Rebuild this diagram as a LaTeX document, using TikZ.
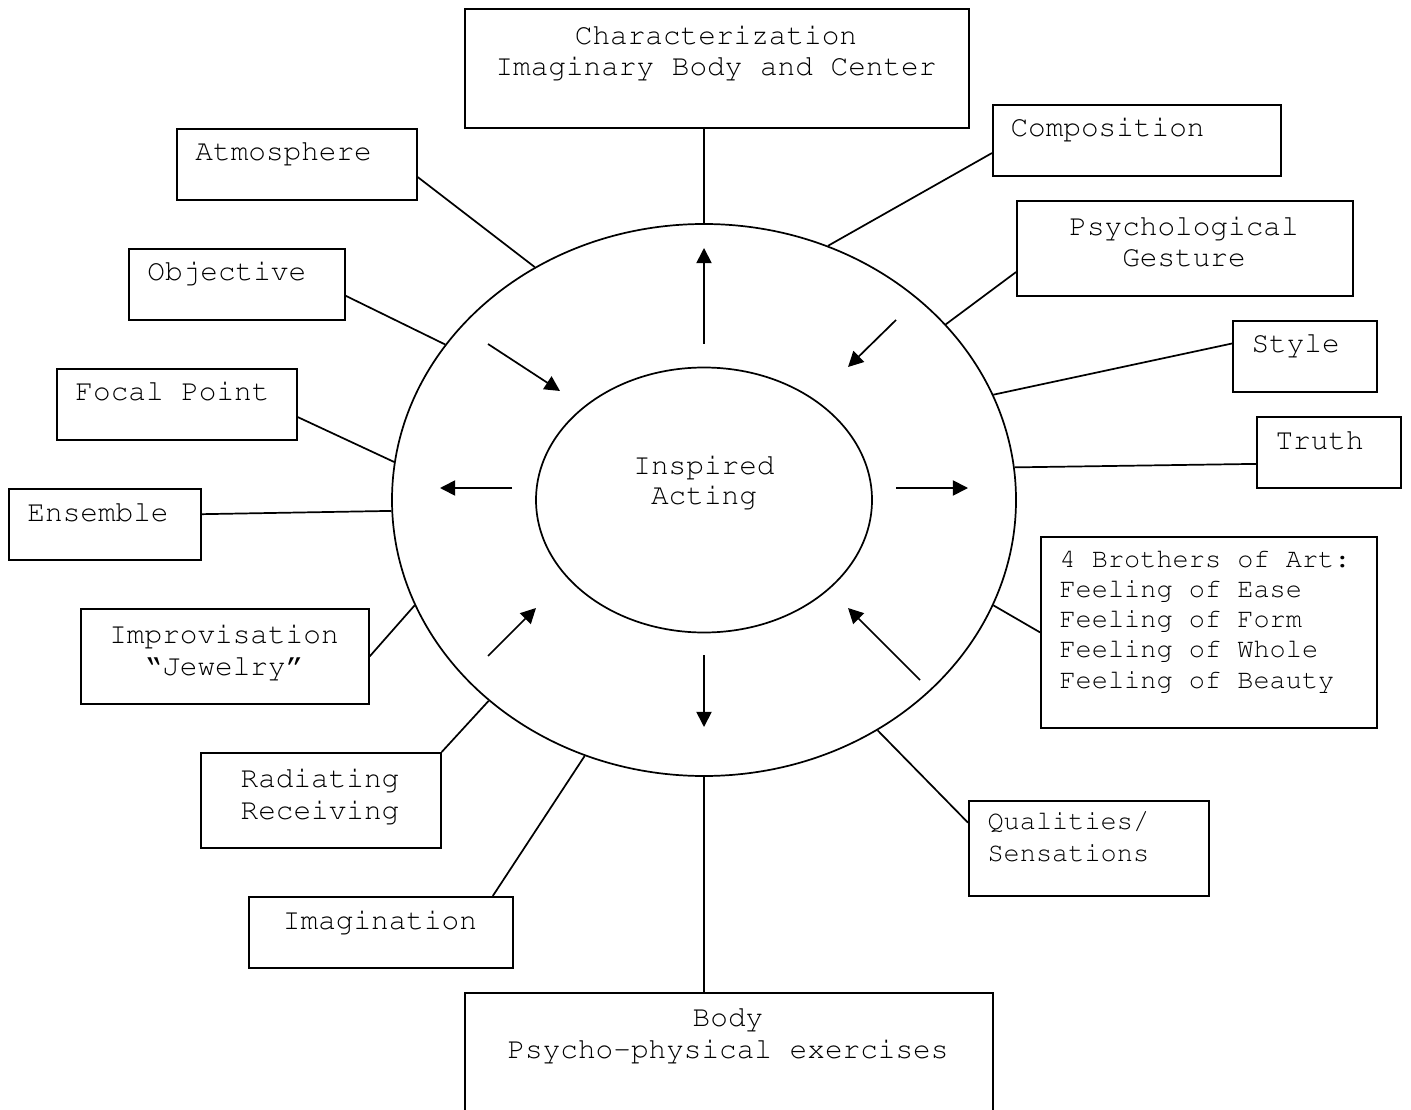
\documentclass[tikz,border=0pt]{standalone}
\usepackage[T1]{fontenc}
\usepackage{courier}
\renewcommand{\familydefault}{\ttdefault}
\usetikzlibrary{shapes.geometric, arrows.meta}

\newdimen\pxu \pxu=0.4082pt

\tikzset{
  box/.style={draw, line width=0.7pt, rectangle, anchor=north west, inner sep=0pt},
  ring/.style={draw, line width=0.7pt, ellipse, inner sep=0pt},
  txt/.style={inner sep=0pt, font=\fontsize{12}{12.85}\selectfont},
  txtsm/.style={inner sep=0pt, font=\fontsize{11}{12.3}\selectfont},
  link/.style={line width=0.7pt},
  push/.style={line width=0.7pt, -{Triangle[length=6.2pt, width=6.2pt]}}
}

\begin{document}
\begin{tikzpicture}[x=0.4082pt, y=-0.4082pt]
	\useasboundingbox (0,0) rectangle (1411,1110);
	\clip (0,0) rectangle (1411,1110);

	% Two rings in the middle
	\node[ring, minimum width=624\pxu, minimum height=552\pxu] (outer) at (704,500) {};
	\node[ring, minimum width=336\pxu, minimum height=265\pxu] (inner) at (704,500) {};
	\node[txt, anchor=base, align=center, font=\fontsize{12}{11.9}\selectfont] (inner-t) at (704,504) {Inspired\\Acting};

	% Boxes round the rings
	\node[box, minimum width=504\pxu, minimum height=119\pxu] (char) at (464,8) {};
	\node[box, minimum width=288\pxu, minimum height=71\pxu] (comp) at (992,104) {};
	\node[box, minimum width=336\pxu, minimum height=95\pxu] (psych) at (1016,200) {};
	\node[box, minimum width=144\pxu, minimum height=71\pxu] (style) at (1232,320) {};
	\node[box, minimum width=144\pxu, minimum height=71\pxu] (truth) at (1256,416) {};
	\node[box, minimum width=336\pxu, minimum height=191\pxu] (bro) at (1040,536) {};
	\node[box, minimum width=240\pxu, minimum height=95\pxu] (qual) at (968,800) {};
	\node[box, minimum width=528\pxu, minimum height=160\pxu] (body) at (464,992) {};
	\node[box, minimum width=264\pxu, minimum height=71\pxu] (imag) at (248,896) {};
	\node[box, minimum width=240\pxu, minimum height=95\pxu] (rad) at (200,752) {};
	\node[box, minimum width=288\pxu, minimum height=95\pxu] (impro) at (80,608) {};
	\node[box, minimum width=192\pxu, minimum height=71\pxu] (ens) at (8,488) {};
	\node[box, minimum width=240\pxu, minimum height=71\pxu] (focal) at (56,368) {};
	\node[box, minimum width=216\pxu, minimum height=71\pxu] (obj) at (128,248) {};
	\node[box, minimum width=240\pxu, minimum height=71\pxu] (atm) at (176,128) {};

	% Texts of the boxes (base = last line)
	\node[txt, anchor=base, align=center] (char-t) at (716,76) {Characterization\\Imaginary Body and Center};
	\node[txt, anchor=base west] (comp-t) at (1010,137) {Composition};
	\node[txt, anchor=base, align=center] (psych-t) at (1184,267) {Psychological\\Gesture};
	\node[txt, anchor=base west] (style-t) at (1251,353) {Style};
	\node[txt, anchor=base west] (truth-t) at (1275,449) {Truth};
	\node[txtsm, anchor=base west, align=left] (bro-t) at (1059,688) {4 Brothers of Art:\\Feeling of Ease\\Feeling of Form\\Feeling of Whole\\Feeling of Beauty};
	\node[txtsm, anchor=base west, align=left, font=\fontsize{11}{12.95}\selectfont] (qual-t) at (987,861) {Qualities/\\Sensations};
	\node[txt, anchor=base, align=center] (body-t) at (728,1058) {Body\\Psycho-physical exercises};
	\node[txt, anchor=base] (imag-t) at (380,929) {Imagination};
	\node[txt, anchor=base, align=center] (rad-t) at (320,819) {Radiating\\Receiving};
	\node[txt, anchor=base, align=center] (impro-t) at (224,675) {Improvisation\\``Jewelry''};
	\node[txt, anchor=base west] (ens-t) at (27,521) {Ensemble};
	\node[txt, anchor=base west] (focal-t) at (75,401) {Focal Point};
	\node[txt, anchor=base west] (obj-t) at (147,281) {Objective};
	\node[txt, anchor=base west] (atm-t) at (195,161) {Atmosphere};

	% Lines from the boxes to the outer ring
	\draw[link] (outer.north) -- (outer.north |- char.south);
	\draw[link] (comp.185) -- (outer.64.5);
	\draw[link] (psych.188.3) -- (outer.36.9);
	\draw[link] (style.170.9) -- (outer.20.7);
	\draw[link] (truth.189.9) -- (outer.6.6);
	\draw[link] (bro.west) -- (outer.-20.6);
	\draw[link] (qual.168.9) -- (outer.-53.5);
	\draw[link] (outer.south) -- (outer.south |- body.north);
	\draw[link] (imag.18.2) -- (outer.-115.5);
	\draw[link] (rad.north east) -- (outer.223.2);
	\draw[link] (impro.east) -- (outer.200.6);
	\draw[link] (ens.6.8) -- (outer.182.2);
	\draw[link] (focal.-6) -- (outer.173.4);
	\draw[link] (obj.-6.1) -- (outer.149.4);
	\draw[link] (atm.-6) -- (outer.126.4);

	% Arrow ends between the rings
	\coordinate (n1) at (704,344);  \coordinate (n2) at (704,248);
	\coordinate (s1) at (704,655);  \coordinate (s2) at (704,727);
	\coordinate (w1) at (512,488);  \coordinate (w2) at (440,488);
	\coordinate (e1) at (896,488);  \coordinate (e2) at (968,488);
	\coordinate (nw1) at (488,344); \coordinate (nw2) at (560,391);
	\coordinate (ne1) at (896,320); \coordinate (ne2) at (848,367);
	\coordinate (sw1) at (488,656); \coordinate (sw2) at (536,608);
	\coordinate (se1) at (920,680); \coordinate (se2) at (848,608);

	% Arrows going out and coming in
	\draw[push] (n1) -- (n2);
	\draw[push] (s1) -- (s2);
	\draw[push] (w1) -- (w2);
	\draw[push] (e1) -- (e2);
	\draw[push] (nw1) -- (nw2);
	\draw[push] (ne1) -- (ne2);
	\draw[push] (sw1) -- (sw2);
	\draw[push] (se1) -- (se2);
\end{tikzpicture}
\end{document}
